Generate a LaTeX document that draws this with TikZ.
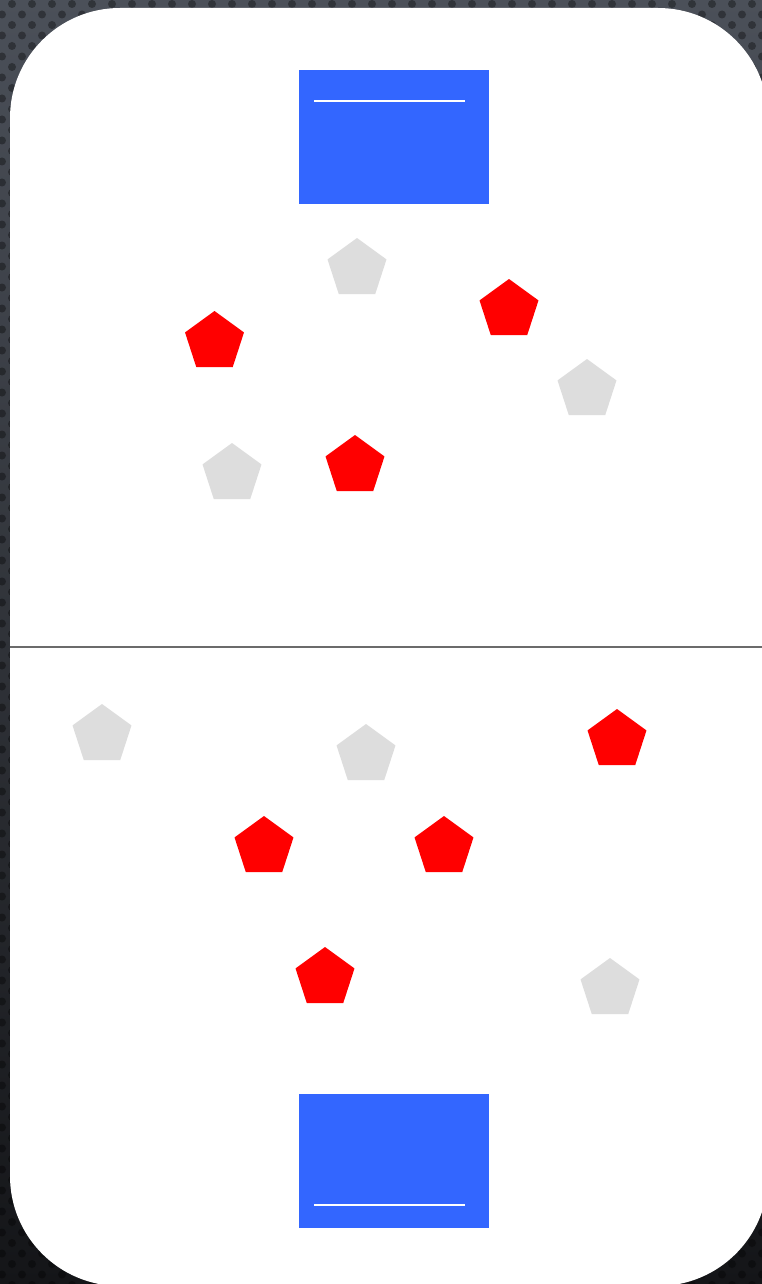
\documentclass[tikz,border=0pt]{standalone}
\usetikzlibrary{shapes.geometric}
\definecolor{bgtop}{HTML}{4B5059}
\definecolor{bgbot}{HTML}{141518}
\definecolor{goalblue}{HTML}{3366FF}
\definecolor{pred}{HTML}{FF0000}
\definecolor{pgrey}{HTML}{DDDDDD}
\definecolor{midgrey}{HTML}{6B6B6B}
\begin{document}
\begin{tikzpicture}[x=1pt,y=-1pt,
  dot/.style={fill=black,opacity=0.35},
  pent/.style={regular polygon,regular polygon sides=5,minimum size=62pt,inner sep=0pt,draw=none},
  redp/.style={pent,fill=pred},
  greyp/.style={pent,fill=pgrey},
  goal/.style={rectangle,fill=goalblue,draw=none,minimum width=190pt,minimum height=134pt,inner sep=0pt},
  goalline/.style={white,line width=2pt},
  midline/.style={midgrey,line width=2pt}]
\useasboundingbox (0,0) rectangle (762,1284);
\shade[top color=bgtop,bottom color=bgbot] (0,0) rectangle (762,1284);
% dotted texture
\foreach \k in {0,...,12,110,111,...,122}{
  \foreach \c in {0,...,38}{
    \fill[dot] ({12-10*mod(\k,2)+20*\c},{4+10.5*\k}) circle (4pt);
  }
}
\foreach \k in {13,...,109}{
  \fill[dot] ({12-10*mod(\k,2)},{4+10.5*\k}) circle (4pt);
}
% field
\fill[white,rounded corners=110pt] (10,8) rectangle (768,1286);
\coordinate (midL) at (10,647);
\coordinate (midR) at (762,647);
\draw[midline] (midL) -- (midR);
% goals
\node[goal] (goalT) at (394,137) {};
\node[goal] (goalB) at (394,1161) {};
\coordinate (gtl) at (314,101); \coordinate (gtr) at (465,101);
\coordinate (gbl) at (314,1205); \coordinate (gbr) at (465,1205);
\draw[goalline] (gtl) -- (gtr);
\draw[goalline] (gbl) -- (gbr);
% top half players
\node[greyp] (g1) at (357,269) {};
\node[redp]  (r1) at (509,310) {};
\node[redp]  (r2) at (214.5,342) {};
\node[greyp] (g2) at (587,390) {};
\node[greyp] (g3) at (232,474) {};
\node[redp]  (r3) at (355,466) {};
% bottom half players
\node[greyp] (g4) at (102,735) {};
\node[greyp] (g5) at (366,755) {};
\node[redp]  (r4) at (617,740) {};
\node[redp]  (r5) at (264,847) {};
\node[redp]  (r6) at (444,847) {};
\node[redp]  (r7) at (325,978) {};
\node[greyp] (g6) at (610,989) {};
\end{tikzpicture}
\end{document}
